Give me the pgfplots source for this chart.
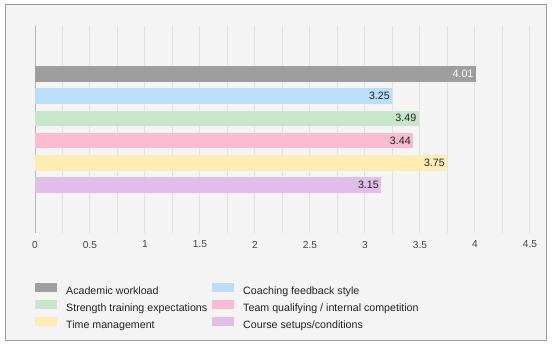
\documentclass[border=0pt]{standalone}
\usepackage{pgfplots}
\pgfplotsset{compat=1.18}
\usepackage{fontspec}
\setmainfont{Liberation Sans}
\definecolor{cGray}{HTML}{9E9E9E}
\definecolor{cBlue}{HTML}{BBDEFB}
\definecolor{cGreen}{HTML}{C8E6C9}
\definecolor{cPink}{HTML}{F8BBD0}
\definecolor{cYellow}{HTML}{FFECB3}
\definecolor{cPurple}{HTML}{E1BEE7}
\definecolor{bgc}{HTML}{F4F4F4}
\definecolor{framec}{HTML}{9A9A9A}
\definecolor{gridc}{HTML}{E2E2E2}
\definecolor{basec}{HTML}{B4B4B4}
\definecolor{tickc}{HTML}{444444}
\definecolor{textc}{HTML}{222222}
\pgfplotsset{swatch legend/.style={legend image code/.code={\fill[##1] (0bp,-1bp) rectangle (22bp,8.5bp);}}}
\begin{document}
\begin{tikzpicture}
\fill[white] (-35bp,-112bp) rectangle (517bp,233bp);
\draw[framec, line width=1bp, fill=bgc] (-29.5bp,228.5bp) rectangle (511.5bp,-107.5bp);
\begin{axis}[
  at={(0bp,0bp)}, anchor=south west,
  scale only axis, width=495bp, height=207bp,
  xmin=0, xmax=4.5, ymin=-233, ymax=-26,
  xbar, bar shift=0pt, bar width=15.5,
  axis line style={draw=none},
  xtick={0,0.5,1,1.5,2,2.5,3,3.5,4,4.5},
  minor xtick={0.25,0.75,1.25,1.75,2.25,2.75,3.25,3.75,4.25},
  ytick=\empty,
  major tick length=0pt, minor tick length=0pt,
  grid=both,
  major grid style={draw=gridc, line width=1bp},
  minor grid style={draw=gridc, line width=1bp},
  /pgf/number format/assume math mode=true,
  xticklabel style={font=\fontsize{10.2}{12}\selectfont, text=tickc, inner sep=0pt, yshift=-7.8bp},
  point meta=x,
  nodes near coords={\pgfmathprintnumber[fixed,fixed zerofill,precision=2]{\pgfplotspointmeta}},
  every node near coord/.append style={anchor=east, font=\fontsize{10.7}{12}\selectfont, text=textc, inner sep=0pt, xshift=-2.5bp},
  every axis plot post/.append style={swatch legend},
  legend columns=2,
  legend cell align=left,
  legend style={font=\fontsize{10.7}{12}\selectfont, text=textc, draw=none, fill=none, inner sep=0pt,
    at={(axis description cs:0,-0.2391)}, anchor=north west,
    nodes={inner sep=0pt, text height=8.5bp, text depth=2.5bp, anchor=west},
    row sep=3bp,
    /tikz/every even column/.append style={column sep=5bp},
    /tikz/every odd column/.append style={column sep=9bp}},
]
\draw[basec, line width=1bp] (axis cs:0,-233) -- (axis cs:0,-26);
\addplot[fill=cGray, draw=none, every node near coord/.append style={text=white}] coordinates {(4.01,-74.2)};
\addlegendentry{Academic workload}
\addplot[fill=cBlue, draw=none] coordinates {(3.25,-96.2)};
\addlegendentry{Coaching feedback style}
\addplot[fill=cGreen, draw=none] coordinates {(3.49,-118.3)};
\addlegendentry{Strength training expectations}
\addplot[fill=cPink, draw=none] coordinates {(3.44,-140.5)};
\addlegendentry{Team qualifying / internal competition}
\addplot[fill=cYellow, draw=none] coordinates {(3.75,-162.8)};
\addlegendentry{Time management}
\addplot[fill=cPurple, draw=none] coordinates {(3.15,-185.0)};
\addlegendentry{Course setups/conditions}
\end{axis}
\end{tikzpicture}
\end{document}
